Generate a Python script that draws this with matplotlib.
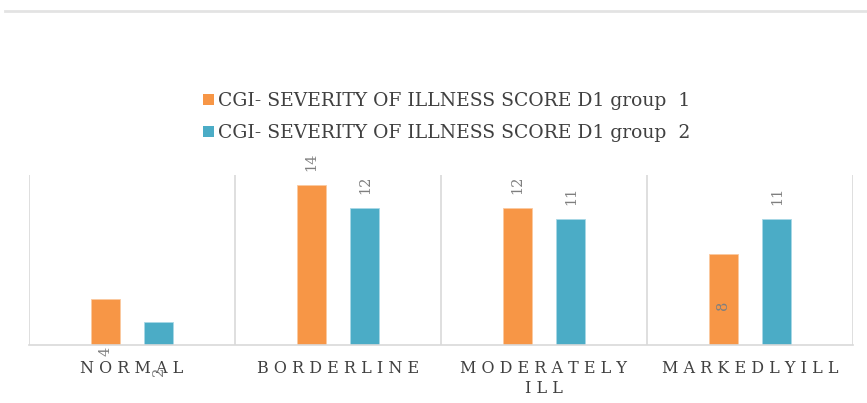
import numpy as np
import matplotlib
matplotlib.use("Agg")
from matplotlib import pyplot as plt
from matplotlib.patches import Patch
from matplotlib.lines import Line2D

# categories and scores
categories = ["NORMAL", "BORDERLINE", "MODERATELY\nILL", "MARKEDLYILL"]
group1 = [4, 14, 12, 8]
group2 = [2, 12, 11, 11]
series_names = ["CGI- SEVERITY OF ILLNESS SCORE D1 group  1",
                "CGI- SEVERITY OF ILLNESS SCORE D1 group  2"]

orange = "#F79646"
teal = "#4BACC6"
label_grey = "#7F7F7F"
text_grey = "#404040"

# label offset (pixels) from the bar top; negative = centred below the top
g1_offsets = [-52, 14, 14, -52]
g2_offsets = [-49, 14, 14, 14]


def spaced(s):
    # wide letter spacing for the category labels
    return "\n".join(" ".join(line) for line in s.split("\n"))


fig = plt.figure(figsize=(8.67, 4.03), dpi=100)
ax = fig.add_axes([29 / 867, 58 / 403, 824 / 867, 170 / 403])

x = np.arange(len(categories))
w = 0.14
off = 0.13
b1 = ax.bar(x - off, group1, w, color=orange, edgecolor="#FBC9A0", linewidth=0.6)
b2 = ax.bar(x + off, group2, w, color=teal, edgecolor="#A8D8E6", linewidth=0.6)

for bars, vals, offs in ((b1, group1, g1_offsets), (b2, group2, g2_offsets)):
    for rect, v, o in zip(bars, vals, offs):
        cx = rect.get_x() + rect.get_width() / 2
        ax.annotate(str(v), (cx, v), xytext=(0, o), textcoords="offset pixels",
                    rotation=90, ha="center",
                    va="bottom" if o > 0 else "center",
                    fontsize=10.5, color=label_grey, family="DejaVu Serif",
                    annotation_clip=False)

ax.set_xlim(-0.5, len(categories) - 0.5)
ax.set_ylim(0, 14.9)
ax.set_yticks([])
ax.set_xticks(x)
ax.set_xticklabels([spaced(c) for c in categories], fontsize=11.5,
                   color=text_grey, family="DejaVu Serif", linespacing=1.2)
ax.tick_params(axis="x", length=0, pad=11)

# vertical separators between categories
for b in np.arange(-0.5, len(categories), 1.0):
    ax.axvline(b, color="#D9D9D9", linewidth=1.2, zorder=0)
for s in ("top", "left", "right"):
    ax.spines[s].set_visible(False)
ax.spines["bottom"].set_color("#D9D9D9")
ax.spines["bottom"].set_linewidth(1.2)

# thin rule across the top
fig.add_artist(Line2D([5 / 867, 1], [1 - 11 / 403, 1 - 11 / 403],
                      color="#E3E3E3", linewidth=2))

handles = [Patch(facecolor=orange), Patch(facecolor=teal)]
fig.legend(handles, series_names, loc="center",
           bbox_to_anchor=(447 / 867, 1 - 117 / 403), frameon=False,
           handlelength=0.55, handleheight=0.55, handletextpad=0.25,
           labelspacing=0.75, prop={"family": "DejaVu Serif", "size": 13.5},
           labelcolor=text_grey)

plt.savefig("out.png", dpi=100)
